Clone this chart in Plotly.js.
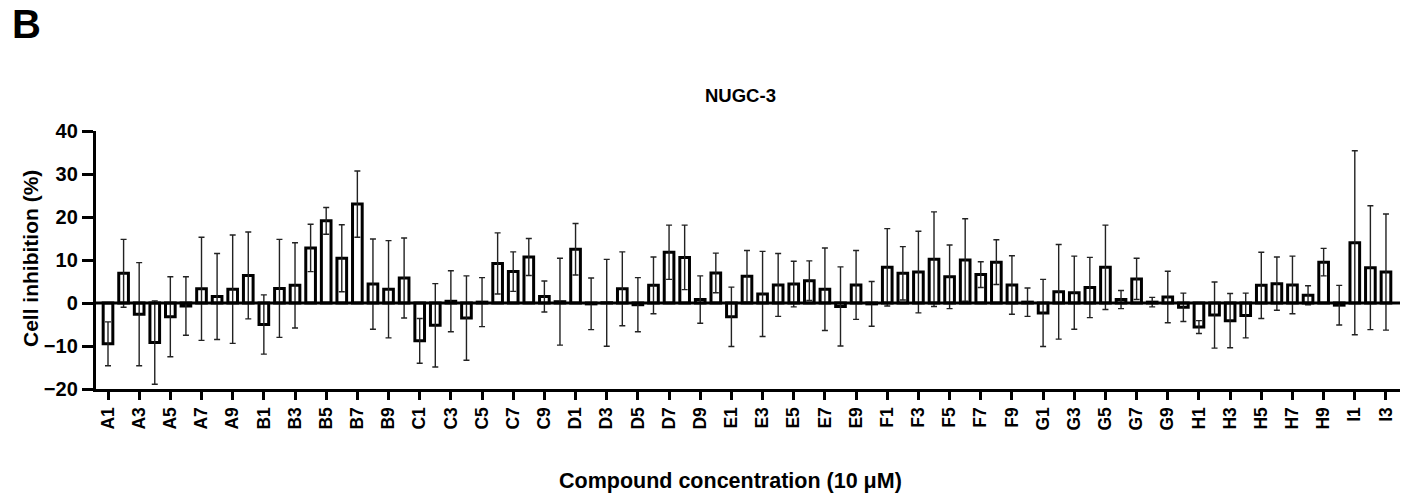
<!DOCTYPE html>
<html>
<head>
<meta charset="utf-8">
<script src="https://cdn.plot.ly/plotly-3.0.1.min.js"></script>
<style>html,body{margin:0;padding:0;background:#fff;}#chart{width:1412px;height:499px;}</style>
</head>
<body>
<div id="chart"></div>
<script>
const categories = ["A1","A2","A3","A4","A5","A6","A7","A8","A9","A10",
  "B1","B2","B3","B4","B5","B6","B7","B8","B9","B10",
  "C1","C2","C3","C4","C5","C6","C7","C8","C9","C10",
  "D1","D2","D3","D4","D5","D6","D7","D8","D9","D10",
  "E1","E2","E3","E4","E5","E6","E7","E8","E9","E10",
  "F1","F2","F3","F4","F5","F6","F7","F8","F9","F10",
  "G1","G2","G3","G4","G5","G6","G7","G8","G9","G10",
  "H1","H2","H3","H4","H5","H6","H7","H8","H9","H10",
  "I1","I2","I3"];
const inhibition = [-9.5,6.9,-2.6,-9.2,-3.2,-0.7,3.3,1.5,3.2,6.4,
  -5.0,3.4,4.1,12.8,19.1,10.4,23.0,4.4,3.2,5.8,
  -8.8,-5.2,0.4,-3.5,0.2,9.2,7.3,10.7,1.5,0.3,
  12.5,-0.2,0.05,3.3,-0.4,4.1,11.8,10.6,0.8,7.0,
  -3.2,6.2,2.1,4.2,4.4,5.2,3.2,-0.8,4.2,-0.2,
  8.3,6.9,7.2,10.2,6.1,10.0,6.6,9.5,4.2,0.2,
  -2.3,2.6,2.4,3.6,8.3,0.8,5.6,0.2,1.4,-1.0,
  -5.6,-2.8,-4.1,-2.9,4.1,4.5,4.2,1.8,9.5,-0.5,
  14.0,8.2,7.2];
const errors = [5.1,7.9,12.0,9.7,9.3,6.8,12.0,10.0,12.6,10.1,
  6.9,11.4,9.9,5.5,3.1,7.8,7.7,10.5,11.3,9.3,
  5.2,9.7,7.1,9.8,5.7,7.1,4.6,4.3,3.6,10.1,
  6.0,6.0,10.1,8.6,6.3,6.6,6.3,7.5,5.5,4.6,
  6.9,6.0,9.9,7.3,5.3,4.6,9.6,9.2,8.0,5.2,
  9.0,6.2,9.5,11.0,7.4,9.6,3.0,5.2,6.8,3.3,
  7.8,11.0,8.5,7.0,9.8,2.1,4.8,1.1,6.0,3.3,
  1.5,7.7,6.3,5.2,7.7,6.2,6.7,2.2,3.2,4.6,
  21.4,14.4,13.5];
const tickLabels = ["A1","A3","A5","A7","A9","B1","B3","B5","B7","B9",
  "C1","C3","C5","C7","C9","D1","D3","D5","D7","D9",
  "E1","E3","E5","E7","E9","F1","F3","F5","F7","F9",
  "G1","G3","G5","G7","G9","H1","H3","H5","H7","H9","I1","I3"];
const chartTitle = "NUGC-3";
const panelLabel = "B";
const xTitle = "Compound concentration (10 μM)";
const yTitle = "Cell inhibition (%)";

const FONT = "Arial, 'Liberation Sans', sans-serif";
const L = 96, R = 1400, T = 131, B = 389;
const px = v => (v - L) / (R - L);
const py = v => (B - v) / (B - T);

const trace = {
  type: "bar",
  x: categories,
  y: inhibition,
  width: 0.62,
  marker: {color: "#ffffff", line: {color: "#000000", width: 3}},
  error_y: {type: "data", array: errors, visible: true, color: "#222222", thickness: 1.4, width: 3},
  hoverinfo: "x+y"
};

const layout = {
  width: 1412, height: 499,
  margin: {l: L, r: 1412 - R, t: T, b: 499 - B, pad: 0},
  paper_bgcolor: "#ffffff", plot_bgcolor: "#ffffff",
  showlegend: false,
  font: {family: FONT, color: "#000"},
  xaxis: {
    type: "category", range: [-0.77, 82.9],
    showline: true, linewidth: 3.2, linecolor: "#000",
    ticks: "outside", ticklen: 8, tickwidth: 3, tickcolor: "#000",
    tickmode: "array", tickvals: tickLabels, ticktext: tickLabels,
    tickangle: -90,
    tickfont: {family: FONT, size: 17.5, color: "#000", weight: "bold"},
    showgrid: false, zeroline: false, fixedrange: true
  },
  yaxis: {
    range: [-20, 40], tickmode: "linear", tick0: -20, dtick: 10,
    showline: true, linewidth: 3.2, linecolor: "#000",
    ticks: "outside", ticklen: 11, tickwidth: 3, tickcolor: "#000",
    tickfont: {family: FONT, size: 20, color: "#000", weight: "bold"},
    showgrid: false, zeroline: false, fixedrange: true
  },
  shapes: [{type: "line", xref: "paper", yref: "y", x0: 0, x1: 1, y0: 0, y1: 0,
    line: {color: "#000", width: 3}, layer: "above"}],
  annotations: [
    {text: "<b>" + panelLabel + "</b>", xref: "paper", yref: "paper", x: px(10), y: py(24),
     xanchor: "left", yanchor: "middle", showarrow: false, font: {family: FONT, size: 40, color: "#000"}},
    {text: "<b>" + chartTitle + "</b>", xref: "paper", yref: "paper", x: px(740), y: py(95),
     xanchor: "center", yanchor: "middle", showarrow: false, font: {family: FONT, size: 18.5, color: "#000"}},
    {text: "<b>" + xTitle + "</b>", xref: "paper", yref: "paper", x: px(730), y: py(481),
     xanchor: "center", yanchor: "middle", showarrow: false, font: {family: FONT, size: 21.5, color: "#000"}},
    {text: "<b>" + yTitle + "</b>", xref: "paper", yref: "paper", x: px(30), y: py(259),
     xanchor: "center", yanchor: "middle", textangle: -90, showarrow: false, font: {family: FONT, size: 21, color: "#000"}}
  ]
};

Plotly.newPlot("chart", [trace], layout, {displayModeBar: false, staticPlot: true});
</script>
</body>
</html>
